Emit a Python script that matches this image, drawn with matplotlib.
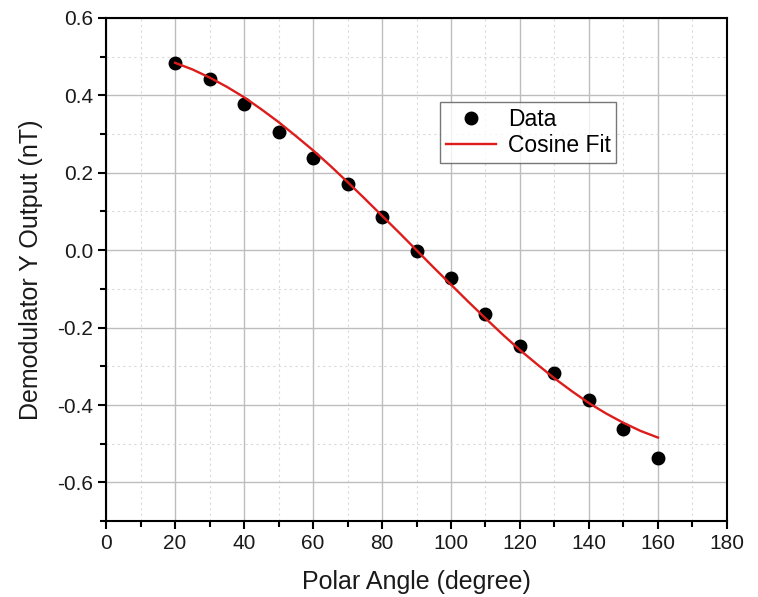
import numpy as np
import matplotlib.pyplot as plt
from matplotlib.ticker import MultipleLocator

plt.rcParams['font.family'] = ['Liberation Sans', 'DejaVu Sans']

# measured points
angle = [20, 30, 40, 50, 60, 70, 80, 90, 100, 110, 120, 130, 140, 150, 160]
output_y = [0.484, 0.442, 0.378, 0.305, 0.238, 0.171, 0.086, -0.002, -0.072,
            -0.165, -0.248, -0.317, -0.387, -0.462, -0.537]

# cosine fit curve, every 5 degrees
fit_angle = list(range(20, 165, 5))
fit_y = [0.484, 0.467, 0.446, 0.422, 0.395, 0.364, 0.331, 0.295, 0.258, 0.218,
         0.176, 0.133, 0.089, 0.045, 0.000, -0.045, -0.089, -0.133, -0.176,
         -0.218, -0.258, -0.295, -0.331, -0.364, -0.395, -0.422, -0.446,
         -0.467, -0.484]

fig = plt.figure(figsize=(7.58, 5.97), dpi=100)
ax = fig.add_axes([0.140, 0.127, 0.819, 0.843])

ax.plot(angle, output_y, 'o', color='black', ms=9, label='Data', zorder=3)
ax.plot(fit_angle, fit_y, '-', color='#dd1c1c', lw=1.7, label='Cosine Fit', zorder=4)

ax.set_xlim(0, 180)
ax.set_ylim(-0.7, 0.6)
ax.xaxis.set_major_locator(MultipleLocator(20))
ax.xaxis.set_minor_locator(MultipleLocator(10))
ax.yaxis.set_minor_locator(MultipleLocator(0.1))
ax.set_yticks([-0.6, -0.4, -0.2, 0.0, 0.2, 0.4, 0.6])
ax.set_yticklabels(['-0.6', '-0.4', '-0.2', '0.0', '0.2', '0.4', '0.6'])

ax.grid(which='major', color='#bdbdbd', lw=1.0, ls='-')
ax.grid(which='minor', color='#d9d9d9', lw=0.8, ls=(0, (2, 3)))
ax.set_axisbelow(True)

for s in ax.spines.values():
    s.set_linewidth(1.5)
ax.tick_params(which='major', direction='out', length=6, width=1.5,
               labelsize=15, labelcolor='#1a1a1a')
ax.tick_params(which='minor', direction='out', length=4, width=1.5)

ax.set_xlabel('Polar Angle (degree)', fontsize=18, labelpad=12, color='#1a1a1a')
ax.set_ylabel('Demodulator Y Output (nT)', fontsize=18, labelpad=10, color='#1a1a1a')

leg = ax.legend(loc='upper left', bbox_to_anchor=(0.538, 0.833), fontsize=16.5,
                frameon=True, fancybox=False, edgecolor='#555555',
                handlelength=2.2, borderpad=0.25, labelspacing=0.15,
                handletextpad=0.5, borderaxespad=0)
leg.get_frame().set_linewidth(1.0)

fig.savefig('out.png', dpi=100)
